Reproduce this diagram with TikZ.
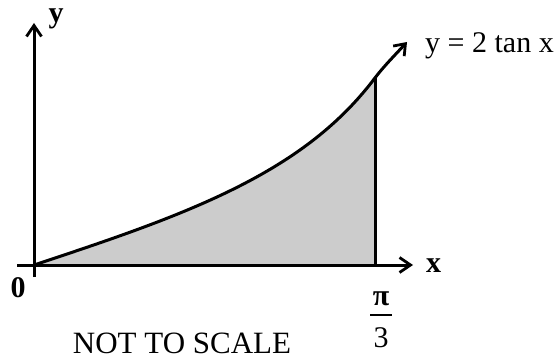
\documentclass[tikz,border=0pt]{standalone}
\usepackage{fontspec}
\setmainfont{Liberation Serif}
\usetikzlibrary{arrows.meta}
\tikzset{
  axisline/.style={line width=3pt, -{Straight Barb[length=11pt,width=15pt,line width=2.8pt]}},
  thick line/.style={line width=3pt},
  lbl/.style={inner sep=0pt, font=\fontsize{30}{34}\selectfont},
  blbl/.style={inner sep=0pt, font=\fontsize{30}{34}\selectfont\bfseries},
}
\begin{document}
\begin{tikzpicture}[x=1pt,y=1pt]
\useasboundingbox (0,0) rectangle (556,362);
% key points
\coordinate (O) at (34,97);
\coordinate (xs) at (17,97);
\coordinate (xe) at (413,97);
\coordinate (ys) at (34,85);
\coordinate (ye) at (34,339);
\coordinate (B) at (375,97);
\coordinate (T) at (375,284);
\coordinate (tip) at (407,320);
% shaded region
\fill[black!20] (O) -- plot[domain=0:1.0472,samples=60,smooth] ({34+325.6*\x},{97+108*tan(\x r)}) -- (B) -- cycle;
% curve
\draw[thick line, -{Straight Barb[length=10pt,width=15pt,line width=2.8pt]}]
  plot[domain=0:1.0472,samples=60,smooth] ({34+325.6*\x},{97+108*tan(\x r)})
  .. controls (384,296) and (396,308) .. (tip);
% vertical line
\draw[thick line] (B) -- (T);
% axes
\draw[axisline] (xs) -- (xe);
\draw[axisline] (ys) -- (ye);
% labels
\node[blbl, anchor=center] (ylab) at (56,343) {y};
\node[blbl, anchor=base west] (xlab) at (426,90) {x};
\node[blbl, anchor=base] (zero) at (18,65) {0};
\node[lbl, anchor=base west] (flab) at (425,309) {y = 2 tan x};
\node[blbl, anchor=base] (pi) at (381,57) {π};
\draw[line width=1.8pt] (370,47) -- (392,47);
\node[lbl, anchor=base] (three) at (381,15) {3};
\node[lbl, anchor=base, font=\fontsize{31}{34}\selectfont] (nts) at (182,9) {NOT TO SCALE};
\end{tikzpicture}
\end{document}
